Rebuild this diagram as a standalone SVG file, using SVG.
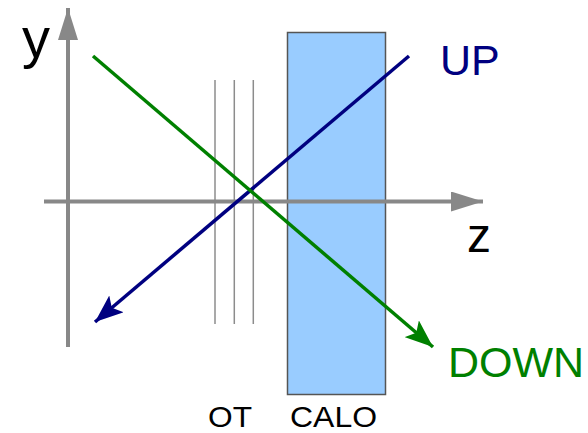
<svg xmlns="http://www.w3.org/2000/svg" width="588" height="433" viewBox="0 0 588 433">
  <defs>
    <style>
      .axis { stroke: #888888; stroke-width: 4; fill: none; }
      .ot { stroke: #8c8c8c; stroke-width: 1.5; fill: none; }
      .lbl { font-family: "Liberation Sans", Arial, sans-serif; }
      .up { stroke: #000080; stroke-width: 3.5; fill: none; }
      .down { stroke: #008000; stroke-width: 3.5; fill: none; }
    </style>
    <marker id="axHead" markerUnits="userSpaceOnUse" viewBox="0 -10 32 20" refX="32" refY="0" markerWidth="32" markerHeight="20" orient="auto">
      <path d="M0,-10 L32,0 L0,10 z" fill="#888888"/>
    </marker>
    <marker id="upHead" markerUnits="userSpaceOnUse" viewBox="0 -11 28 22" refX="28" refY="0" markerWidth="28" markerHeight="22" orient="auto">
      <path d="M0,-11 L28,0 L0,11 L6,0 z" fill="#000080"/>
    </marker>
    <marker id="downHead" markerUnits="userSpaceOnUse" viewBox="0 -11 28 22" refX="28" refY="0" markerWidth="28" markerHeight="22" orient="auto">
      <path d="M0,-11 L28,0 L0,11 L6,0 z" fill="#008000"/>
    </marker>
  </defs>
  <rect width="588" height="433" fill="#ffffff"/>

  <g id="calo">
    <rect x="287.5" y="32.5" width="98" height="362" fill="#99ccff" stroke="#555555" stroke-width="1.5"/>
    <text class="lbl" x="290" y="427" font-size="30" textLength="87" lengthAdjust="spacingAndGlyphs" fill="#000000">CALO</text>
  </g>

  <g id="ot">
    <line class="ot" x1="215" y1="80" x2="215" y2="324"/>
    <line class="ot" x1="234.3" y1="80" x2="234.3" y2="324"/>
    <line class="ot" x1="253.3" y1="80" x2="253.3" y2="324"/>
    <text class="lbl" x="208" y="427" font-size="30" textLength="44" lengthAdjust="spacingAndGlyphs" fill="#000000">OT</text>
  </g>

  <g id="axes">
    <line class="axis" x1="68" y1="347" x2="68" y2="8" marker-end="url(#axHead)"/>
    <line class="axis" x1="44" y1="201.5" x2="483" y2="201.5" marker-end="url(#axHead)"/>
    <text class="lbl" x="22" y="57" font-size="56" fill="#000000">y</text>
    <text class="lbl" x="467" y="252" font-size="48" fill="#000000">z</text>
  </g>

  <g id="connectors">
    <line class="up" x1="409" y1="56" x2="95" y2="322" marker-end="url(#upHead)"/>
    <line class="down" x1="93" y1="56" x2="433" y2="347" marker-end="url(#downHead)"/>
  </g>

  <g id="up-label">
    <text class="lbl" x="440" y="75" font-size="43" fill="#000080">UP</text>
  </g>
  <g id="down-label">
    <text class="lbl" x="448" y="377" font-size="43" fill="#008000">DOWN</text>
  </g>
</svg>
